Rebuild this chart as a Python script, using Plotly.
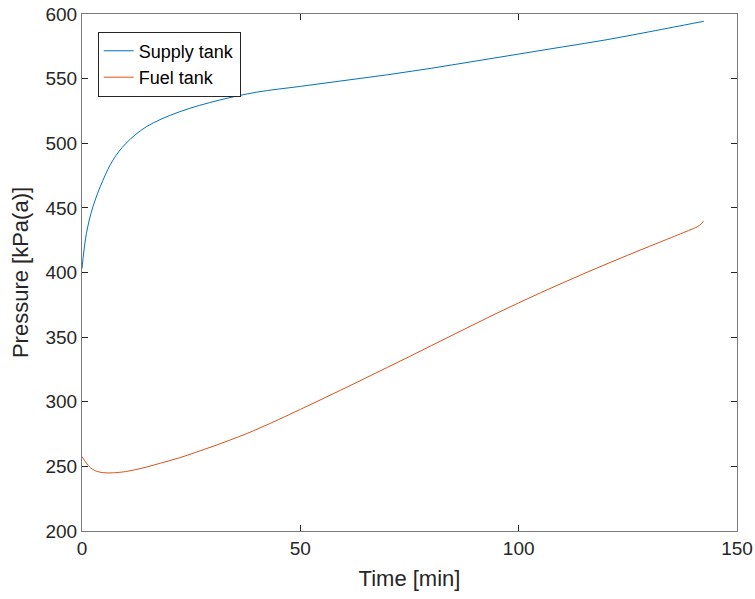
import plotly.graph_objects as go

time_supply = [0, 1, 2.5, 4.8, 7.1, 10.1, 14.7, 22.3, 31.5, 40, 50, 60, 70, 80, 90, 100, 110, 120, 130, 140, 142.4]
supply_tank = [403, 430, 450.8, 471.4, 487, 500, 512.7, 524.3, 533.4, 539.5, 544, 548.5, 553, 558, 563.5, 569, 574.5, 580, 586.3, 592.8, 594.3]

time_fuel = [0, 1, 2, 3, 4, 5, 6, 7, 8, 10, 12, 14.7, 18, 22.3, 26, 30, 34, 37.6, 41, 45, 50, 55, 60, 65, 70,
             75, 80, 85, 90, 95, 100, 105, 110, 115, 120, 125, 130, 135, 137.7, 140, 141, 141.8, 142.3]
fuel_tank = [257.6, 252.5, 248.8, 246.7, 245.6, 245.1, 244.9, 245, 245.2, 246, 247.3, 249.4, 252.5, 256.6, 260.8,
             265.5, 270.5, 275.2, 280.1, 286.2, 294.1, 302.1, 310.2, 318.4, 326.7, 335, 343.4, 351.8, 360.2, 368.5,
             376.5, 384.3, 391.8, 399.2, 406.4, 413.4, 420.3, 427.1, 430.8, 434, 435.6, 437.6, 439.7]

x_ticks = [0, 50, 100, 150]
y_ticks = [200, 250, 300, 350, 400, 450, 500, 550, 600]

FONT = "Liberation Sans, Arial, Helvetica, sans-serif"

fig = go.Figure()
fig.add_trace(go.Scatter(x=time_supply, y=supply_tank, mode="lines", name="Supply tank",
                         line=dict(color="#0072BD", width=1, shape="spline")))
fig.add_trace(go.Scatter(x=time_fuel, y=fuel_tank, mode="lines", name="Fuel tank",
                         line=dict(color="#D95319", width=1, shape="spline")))

axis_common = dict(showgrid=False, zeroline=False, showline=True, linecolor="#7a7a7a", linewidth=1,
                   mirror="ticks", ticks="inside", ticklen=6, tickcolor="#262626", automargin=False,
                   ticklabeloverflow="allow",
                   tickfont=dict(family=FONT, size=19, color="#262626"))

fig.update_layout(
    width=755, height=599,
    margin=dict(l=82, r=18, t=14, b=68),
    paper_bgcolor="white", plot_bgcolor="white",
    font=dict(family=FONT, color="#262626"),
    xaxis=dict(range=[0, 150], tickvals=x_ticks,
               title=dict(text="Time [min]", font=dict(size=22), standoff=12), **axis_common),
    yaxis=dict(range=[200, 600], tickvals=y_ticks,
               title=dict(text="Pressure [kPa(a)]", font=dict(size=22), standoff=10), **axis_common),
    legend=dict(x=0.024, y=0.966, xanchor="left", yanchor="top", bgcolor="white",
                bordercolor="#262626", borderwidth=1, font=dict(size=18, color="#000000"),
                tracegroupgap=0, itemwidth=30),
    showlegend=True,
)

fig.write_html("out.html", config={"displayModeBar": False},
               post_script="document.body.style.margin='0';")
